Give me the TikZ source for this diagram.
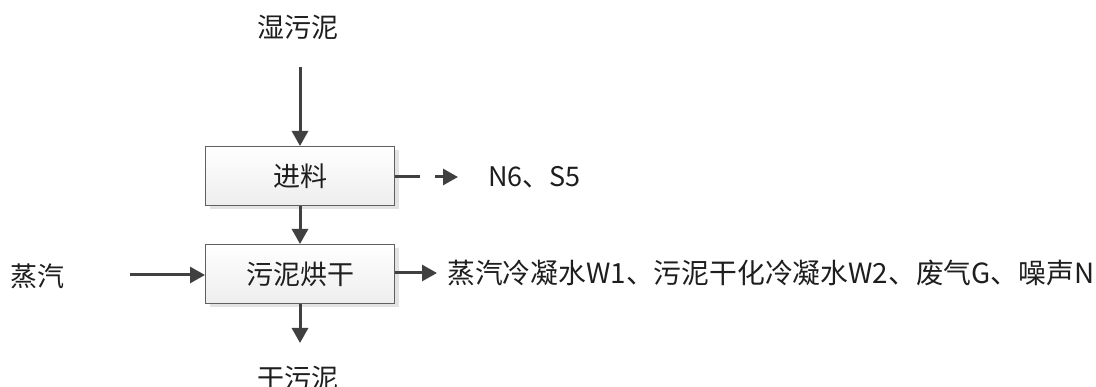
\documentclass[tikz,border=0pt]{standalone}
\usepackage{fontspec}
\setmainfont{Noto Sans CJK SC}
\usetikzlibrary{arrows.meta,shadows}
\definecolor{arr}{HTML}{404040}
\definecolor{txt}{HTML}{1E1E1E}
\tikzset{
  procbox/.style={draw=gray!75!black, line width=1pt, top color=white, bottom color=gray!14,
    minimum width=189pt, minimum height=59pt, inner sep=0pt,
    general shadow={shadow xshift=4pt, shadow yshift=-4pt, fill=gray!22},
    font=\fontsize{27}{30}\selectfont, text=txt},
  lbl/.style={inner sep=0pt, font=\fontsize{27}{30}\selectfont, text=txt},
  flow/.style={draw=arr, line width=3pt, -{Triangle[length=15pt,width=16pt]}},
  seg/.style={draw=arr, line width=3pt}
}
\begin{document}
\begin{tikzpicture}[x=1pt,y=-1pt]
\useasboundingbox (0,0) rectangle (1096,387);
\node[procbox] (feed) at (300,176) {进料};
\node[procbox] (dry) at (300,274) {污泥烘干};
\node[lbl] (wet) at (298,27) {湿污泥};
\node[lbl] (drysl) at (298,378) {干污泥};
\node[lbl] (steam) at (37,276) {蒸汽};
\node[lbl, anchor=west] (ns) at (488,177) {N6、S5};
\node[lbl, anchor=west, font=\fontsize{27.8}{30}\selectfont] (outs) at (447,273) {蒸汽冷凝水W1、污泥干化冷凝水W2、废气G、噪声N};
\coordinate (wetend) at (300,67);
\coordinate (dryend) at (300,343);
\coordinate (steamst) at (130,275);
\coordinate (nsa) at (420,177);
\coordinate (nsb) at (435,177);
\draw[flow] (wetend) -- (feed.north);
\draw[flow] (feed.south) -- (dry.north);
\draw[flow] (dry.south) -- (dryend);
\draw[flow] (steamst) -- (dry.west |- steamst);
\draw[seg] (feed.east |- nsa) -- (nsa);
\draw[flow, shorten >=30pt] (nsb) -- (ns.west);
\draw[flow, shorten >=10pt] (dry.east |- outs.west) -- (outs.west);
\end{tikzpicture}
\end{document}
